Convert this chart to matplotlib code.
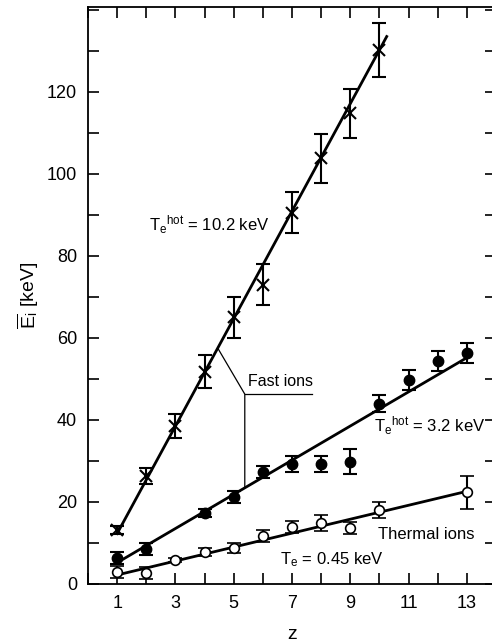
import matplotlib
matplotlib.use("Agg")
import matplotlib.pyplot as plt
from matplotlib.ticker import MultipleLocator

plt.rcParams['font.family'] = ['Liberation Sans', 'DejaVu Sans']
plt.rcParams['mathtext.fontset'] = 'custom'
plt.rcParams['mathtext.rm'] = 'Liberation Sans'
plt.rcParams['mathtext.it'] = 'Liberation Sans'

# fast ions, Te_hot = 10.2 keV (crosses)
fast_z = [1, 2, 3, 4, 5, 6, 7, 8, 9, 10]
fast_E = [13.2, 26.3, 38.5, 51.8, 65.0, 73.0, 90.5, 103.8, 114.8, 130.2]
fast_err = [1.0, 2.0, 3.0, 4.0, 5.0, 5.0, 5.0, 6.0, 6.0, 6.5]
fast_fit_z = [1, 10.25]
fast_fit_E = [12.3, 133.5]

# fast ions, Te_hot = 3.2 keV (filled circles)
mid_z = [1, 2, 4, 5, 6, 7, 8, 9, 10, 11, 12, 13]
mid_E = [6.3, 8.5, 17.3, 21.2, 27.3, 29.3, 29.3, 29.8, 44.0, 49.8, 54.4, 56.3]
mid_err = [1.5, 1.5, 1.0, 1.5, 1.5, 2.0, 2.0, 3.0, 2.0, 2.5, 2.5, 2.5]
mid_fit_z = [1, 13.1]
mid_fit_E = [5.2, 55.6]

# thermal ions, Te = 0.45 keV (open circles)
th_z = [1, 2, 3, 4, 5, 6, 7, 8, 9, 10, 13]
th_E = [3.0, 2.7, 5.8, 7.8, 8.7, 11.7, 13.9, 14.9, 13.7, 18.0, 22.4]
th_err = [1.5, 1.5, 0.5, 1.0, 1.2, 1.5, 1.5, 2.0, 1.5, 2.0, 4.0]
th_fit_z = [1, 13]
th_fit_E = [2.2, 22.6]

x_ticks = [1, 3, 5, 7, 9, 11, 13]
y_ticks = [0, 20, 40, 60, 80, 100, 120]

fig = plt.figure(figsize=(4.92, 6.44), dpi=100)
ax = fig.add_axes([88 / 492, 60 / 644, 408 / 492, 577 / 644])

ax.plot(fast_fit_z, fast_fit_E, color='black', lw=2.0)
ax.plot(mid_fit_z, mid_fit_E, color='black', lw=2.0)
ax.plot(th_fit_z, th_fit_E, color='black', lw=2.0)

ax.errorbar(fast_z, fast_E, yerr=fast_err, fmt='x', color='black', ms=8,
            mew=1.5, capsize=5, elinewidth=1.5, capthick=1.5)
ax.errorbar(mid_z, mid_E, yerr=mid_err, fmt='o', color='black', ms=7.5,
            capsize=5, elinewidth=1.5, capthick=1.5)
ax.errorbar(th_z, th_E, yerr=th_err, fmt='o', color='black', mfc='white',
            ms=7, mew=1.2, capsize=5, elinewidth=1.5, capthick=1.5)

# "Fast ions" pointer
ax.plot([4.47, 5.38, 5.38], [57.3, 46.3, 23.6], color='black', lw=0.9)
ax.plot([5.38, 7.7], [46.3, 46.3], color='black', lw=0.9)
ax.text(5.5, 47.5, 'Fast ions', fontsize=11.5, va='bottom', ha='left')

ax.text(2.1, 87.5, r'T$_e$$^{\rm hot}$ = 10.2 keV', fontsize=12, va='center')
ax.text(9.8, 38.5, r'T$_e$$^{\rm hot}$ = 3.2 keV', fontsize=12, va='center')
ax.text(9.95, 12.0, 'Thermal ions', fontsize=12, va='center')
ax.text(6.6, 5.9, r'T$_e$ = 0.45 keV', fontsize=12, va='center')

ax.set_xlim(0, 14)
ax.set_ylim(0, 140.7)
ax.set_xticks(x_ticks)
ax.set_yticks(y_ticks)
ax.xaxis.set_minor_locator(MultipleLocator(1))
ax.yaxis.set_minor_locator(MultipleLocator(10))
ax.tick_params(which='both', direction='in', top=True, right=True,
               labelsize=13, width=1.2)
ax.tick_params(which='major', length=8, pad=8)
ax.tick_params(which='minor', length=8)
for s in ax.spines.values():
    s.set_linewidth(1.3)

ax.set_xlabel('z', fontsize=14, labelpad=10)
ax.set_ylabel(r'$\overline{\rm E}_{\rm i}$ [keV]', fontsize=14, labelpad=4)

fig.savefig('out.png', dpi=100)
